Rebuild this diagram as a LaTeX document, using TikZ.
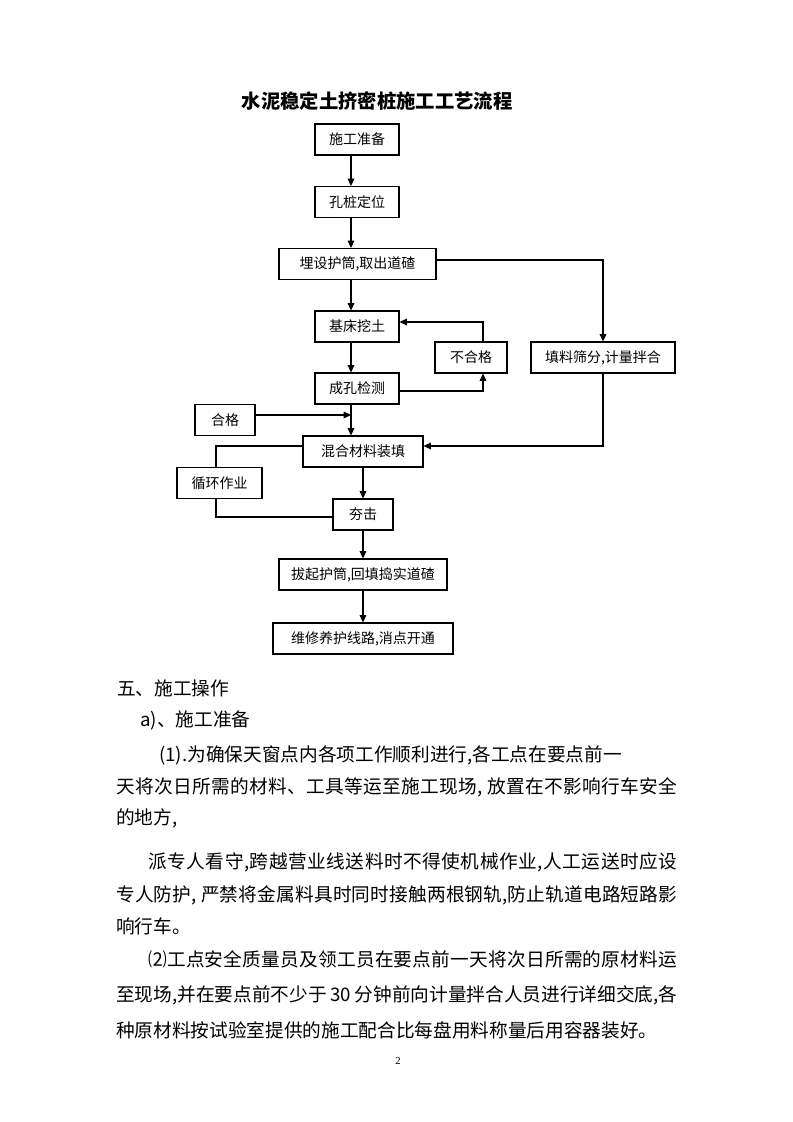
\documentclass[tikz,border=0pt]{standalone}
\usepackage{fontspec}
\setmainfont{Noto Sans CJK SC}
\newfontfamily\numfont{Liberation Serif}
\usetikzlibrary{arrows.meta}
\newcommand\jline[2]{\makebox[#1][s]{\XeTeXinterchartokenstate=1 #2}}
\count255="4E00
\loop
  \XeTeXcharclass\count255=1
  \advance\count255 by 1
\ifnum\count255<"9FA6 \repeat
\XeTeXcharclass"3001=3
\XeTeXcharclass"3002=3
\XeTeXinterchartoks 1 1 = {\hskip 0pt plus 2pt\relax}
\XeTeXinterchartoks 1 3 = {\hskip 0pt plus 2pt\relax}
\XeTeXinterchartoks 3 1 = {\hskip 0pt plus 2pt\relax}
\XeTeXinterchartoks 1 0 = {\hskip 0pt plus 2pt\relax}
\XeTeXinterchartoks 0 1 = {\hskip 0pt plus 2pt\relax}

\begin{document}
\begin{tikzpicture}[x=0.75pt,y=-0.75pt,
  box/.style={draw,line width=0.8pt,inner sep=0pt,minimum width=#1*0.75pt,minimum height=23.25pt,font=\fontsize{10.5pt}{12pt}\selectfont},
  arr/.style={line width=0.8pt,-{Triangle[length=5.5pt,width=5pt]}},
  conn/.style={line width=0.8pt},
  txt/.style={anchor=west,inner sep=0pt,font=\fontsize{14pt}{16pt}\selectfont}]
  \useasboundingbox (0,0) rectangle (793,1122);
  \node[font=\fontsize{14.5pt}{17pt}\selectfont\bfseries] (title) at (377,101) {水泥稳定土挤密桩施工工艺流程};
  \node[box=84] (zb) at (357,139.5) {施工准备};
  \node[box=84] (dw) at (357,202) {孔桩定位};
  \node[box=157] (ms) at (357.5,264) {埋设护筒,取出道碴};
  \node[box=84] (wt) at (357,326.5) {基床挖土};
  \node[box=72] (bhg) at (471,357.5) {不合格};
  \node[box=144] (sf) at (603,357.5) {填料筛分,计量拌合};
  \node[box=84] (jc) at (357,388.5) {成孔检测};
  \node[box=60] (hg) at (225,420) {合格};
  \node[box=120] (zt) at (363,451.5) {混合材料装填};
  \node[box=85] (xh) at (219.5,483) {循环作业};
  \node[box=60] (hj) at (363,514.5) {夯击};
  \node[box=168] (bq) at (363,574.5) {拔起护筒,回填捣实道碴};
  \node[box=180] (wx) at (363,638.5) {维修养护线路,消点开通};
  \coordinate (colA) at (351,0);
  \coordinate (rt) at (603,260);
  \coordinate (ret) at (483,322);
  \coordinate (chk) at (483,391);
  \coordinate (ok) at (351,415);
  \coordinate (fill) at (603,446);
  \coordinate (lpA) at (216,446);
  \coordinate (lpB) at (216,517);
  \draw[arr] (zb.south -| colA) -- (dw.north -| colA);
  \draw[arr] (dw.south -| colA) -- (ms.north -| colA);
  \draw[arr] (ms.south -| colA) -- (wt.north -| colA);
  \draw[arr] (wt.south -| colA) -- (jc.north -| colA);
  \draw[arr] (jc.south -| colA) -- (zt.north -| colA);
  \draw[arr] (ms.east |- rt) -- (rt) -- (sf.north);
  \draw[arr] (bhg.north -| ret) -- (ret) -- (wt.east |- ret);
  \draw[arr] (jc.east |- chk) -- (chk) -- (bhg.south -| chk);
  \draw[arr] (hg.east |- ok) -- (ok);
  \draw[arr] (sf.south) -- (fill) -- (zt.east |- fill);
  \draw[conn] (zt.west |- lpA) -- (lpA) -- (xh.north -| lpA);
  \draw[conn] (xh.south -| lpB) -- (lpB) -- (hj.west |- lpB);
  \draw[arr] (zt.south) -- (hj.north);
  \draw[arr] (hj.south) -- (bq.north);
  \draw[arr] (bq.south) -- (wx.north);
  \node[txt] (p1) at (117,688) {五、施工操作};
  \node[txt] (p2) at (140,720) {a)、施工准备};
  \node[txt] (p3) at (159,755) {(1).为确保天窗点内各项工作顺利进行,各工点在要点前一};
  \node[txt] (p4) at (116,787) {\jline{420.75pt}{天将次日所需的材料、工具等运至施工现场, 放置在不影响行车安全}};
  \node[txt] (p5) at (116,818) {的地方,};
  \node[txt] (p6) at (148,862) {\jline{396.75pt}{派专人看守,跨越营业线送料时不得使机械作业,人工运送时应设}};
  \node[txt] (p7) at (116,895) {\jline{420.75pt}{专人防护, 严禁将金属料具时同时接触两根钢轨,防止轨道电路短路影}};
  \node[txt] (p8) at (116,926) {响行车。};
  \node[txt] (p9) at (148,959) {\jline{396.75pt}{⑵工点安全质量员及领工员在要点前一天将次日所需的原材料运}};
  \node[txt] (p10) at (116,995) {\jline{420.75pt}{至现场,并在要点前不少于 30 分钟前向计量拌合人员进行详细交底,各}};
  \node[txt] (p11) at (116,1030) {种原材料按试验室提供的施工配合比每盘用料称量后用容器装好。};
  \node[font=\numfont\fontsize{8pt}{9pt}\selectfont] (pg) at (398,1061) {2};
\end{tikzpicture}
\end{document}
